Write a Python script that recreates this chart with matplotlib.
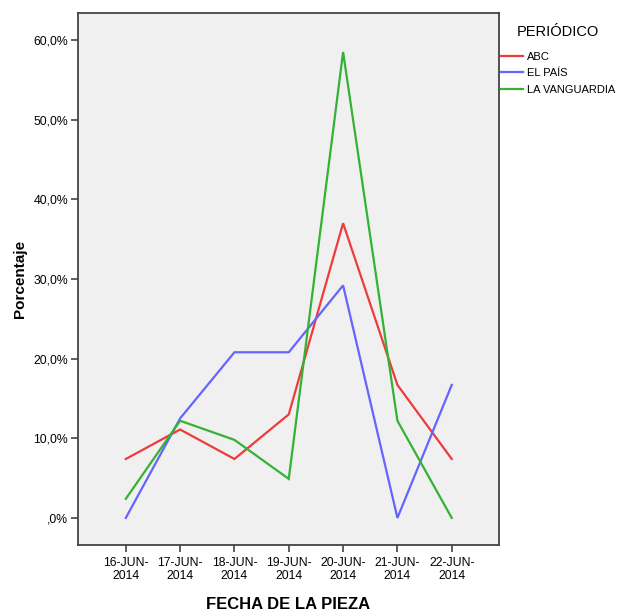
import matplotlib
matplotlib.use("Agg")
import matplotlib.pyplot as plt
from matplotlib.lines import Line2D
from matplotlib.ticker import FuncFormatter

plt.rcParams['font.family'] = ['Liberation Sans', 'DejaVu Sans']

fechas = ["16-JUN-\n2014", "17-JUN-\n2014", "18-JUN-\n2014", "19-JUN-\n2014",
          "20-JUN-\n2014", "21-JUN-\n2014", "22-JUN-\n2014"]
abc = [7.4, 11.1, 7.4, 13.0, 37.0, 16.7, 7.4]
el_pais = [0.0, 12.5, 20.8, 20.8, 29.2, 0.0, 16.7]
la_vanguardia = [2.4, 12.2, 9.8, 4.9, 58.5, 12.2, 0.0]
series_names = ["ABC", "EL PAÍS", "LA VANGUARDIA"]
colors = ["#EE3B3B", "#6464FF", "#34B234"]

W, H = 620, 611
fig = plt.figure(figsize=(W / 100, H / 100), dpi=100)
fig.patch.set_facecolor("white")
ax = fig.add_axes([78 / W, 1 - 545 / H, (499 - 78) / W, (545 - 13) / H])
ax.set_facecolor("#F0F0F0")

x = list(range(len(fechas)))
for vals, c in zip([abc, el_pais, la_vanguardia], colors):
    ax.plot(x, vals, color=c, lw=1.6, solid_joinstyle='miter')

ax.set_xlim(-0.88, 6.87)
ax.set_ylim(-3.4, 63.4)
ax.set_xticks(x)
ax.set_xticklabels(fechas, fontsize=8.8, linespacing=1.05)
ax.set_yticks([0, 10, 20, 30, 40, 50, 60])
ax.yaxis.set_major_formatter(FuncFormatter(
    lambda v, p: (",0%" if v == 0 else f"{v:.1f}".replace(".", ",") + "%")))
ax.tick_params(axis='y', labelsize=8.8, length=5, width=1.2, color="#444444", pad=2)
ax.tick_params(axis='x', length=5, width=1.2, color="#444444", pad=4)
for s in ax.spines.values():
    s.set_color("#444444")
    s.set_linewidth(1.3)

ax.set_xlabel("FECHA DE LA PIEZA", fontsize=12, fontweight='bold', labelpad=11)
ax.set_ylabel("Porcentaje", fontsize=11, fontweight='bold', labelpad=5)

handles = [Line2D([0], [0], color=c, lw=1.6) for c in colors]
leg = fig.legend(handles, series_names, loc='upper left',
                 bbox_to_anchor=(499 / W, 1 - 23 / H), frameon=False,
                 fontsize=8, title="PERIÓDICO", title_fontsize=10.5,
                 handlelength=2.0, handletextpad=0.3, labelspacing=0.58,
                 borderaxespad=0, borderpad=0.2)
leg._legend_box.sep = 9

fig.savefig("out.png", dpi=100, facecolor="white")
